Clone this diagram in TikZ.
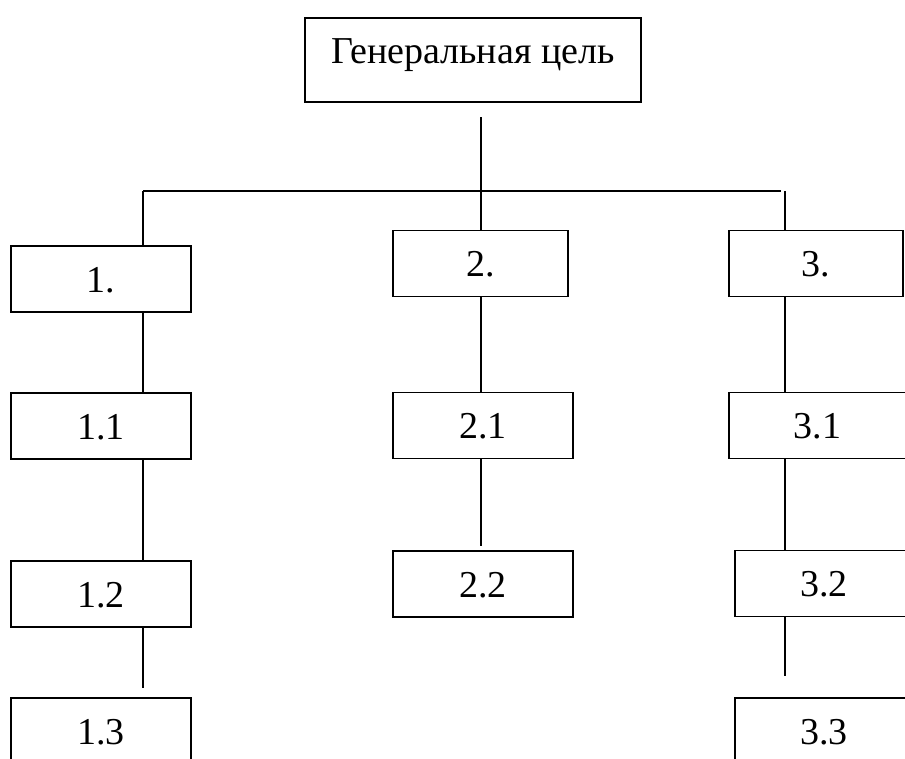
\documentclass[tikz,border=0pt]{standalone}
\usepackage{fontspec}
\setmainfont{Liberation Serif}
\begin{document}
\begin{tikzpicture}[x=1pt,y=-1pt,
  goalbox/.style={draw, line width=1.7pt, rectangle, inner sep=0pt,
    font=\fontsize{38}{42}\selectfont, text height=46pt, text depth=20pt},
  link/.style={draw, line width=1.7pt}]
\useasboundingbox (0,0) rectangle (905,758);
\clip (0,0) rectangle (905,758);

% top goal
\node[goalbox, minimum width=336pt, text height=45pt, text depth=39pt] (top) at (473,60) {Генеральная цель};

% first level
\node[goalbox, minimum width=180pt] (b1) at (101,279) {1.};
\node[goalbox, minimum width=175pt] (b2) at (480.5,263.5) {2.};
\node[goalbox, minimum width=174pt] (b3) at (816,263.5) {3.};

% branch 1
\node[goalbox, minimum width=180pt] (b11) at (101,426) {1.1};
\node[goalbox, minimum width=180pt] (b12) at (101,594) {1.2};
\node[goalbox, minimum width=180pt] (b13) at (101,731) {1.3};

% branch 2
\node[goalbox, minimum width=180pt] (b21) at (483,425.5) {2.1};
\node[goalbox, minimum width=180pt] (b22) at (483,584) {2.2};

% branch 3
\node[goalbox, minimum width=177pt] (b31) at (817.5,425.5) {3.1};
\node[goalbox, minimum width=178pt] (b32) at (824,583.5) {3.2};
\node[goalbox, minimum width=178pt] (b33) at (824,731) {3.3};

% junction points
\coordinate (stem) at (481,117);
\coordinate (hL) at (143,191);
\coordinate (hR) at (781,191);
\coordinate (vR) at (785,191);
\coordinate (e12) at (143,688);
\coordinate (e21) at (481,546);
\coordinate (e32) at (785,676);

% connectors
\draw[link] (stem) -- (stem |- b2.north);
\draw[link] (hL) -- (hR);
\draw[link] (hL) -- (hL |- b1.north);
\draw[link] (vR) -- (vR |- b3.north);

\draw[link] (hL |- b1.south) -- (hL |- b11.north);
\draw[link] (hL |- b11.south) -- (hL |- b12.north);
\draw[link] (hL |- b12.south) -- (e12);

\draw[link] (stem |- b2.south) -- (stem |- b21.north);
\draw[link] (stem |- b21.south) -- (e21);

\draw[link] (vR |- b3.south) -- (vR |- b31.north);
\draw[link] (vR |- b31.south) -- (vR |- b32.north);
\draw[link] (vR |- b32.south) -- (e32);
\end{tikzpicture}
\end{document}
